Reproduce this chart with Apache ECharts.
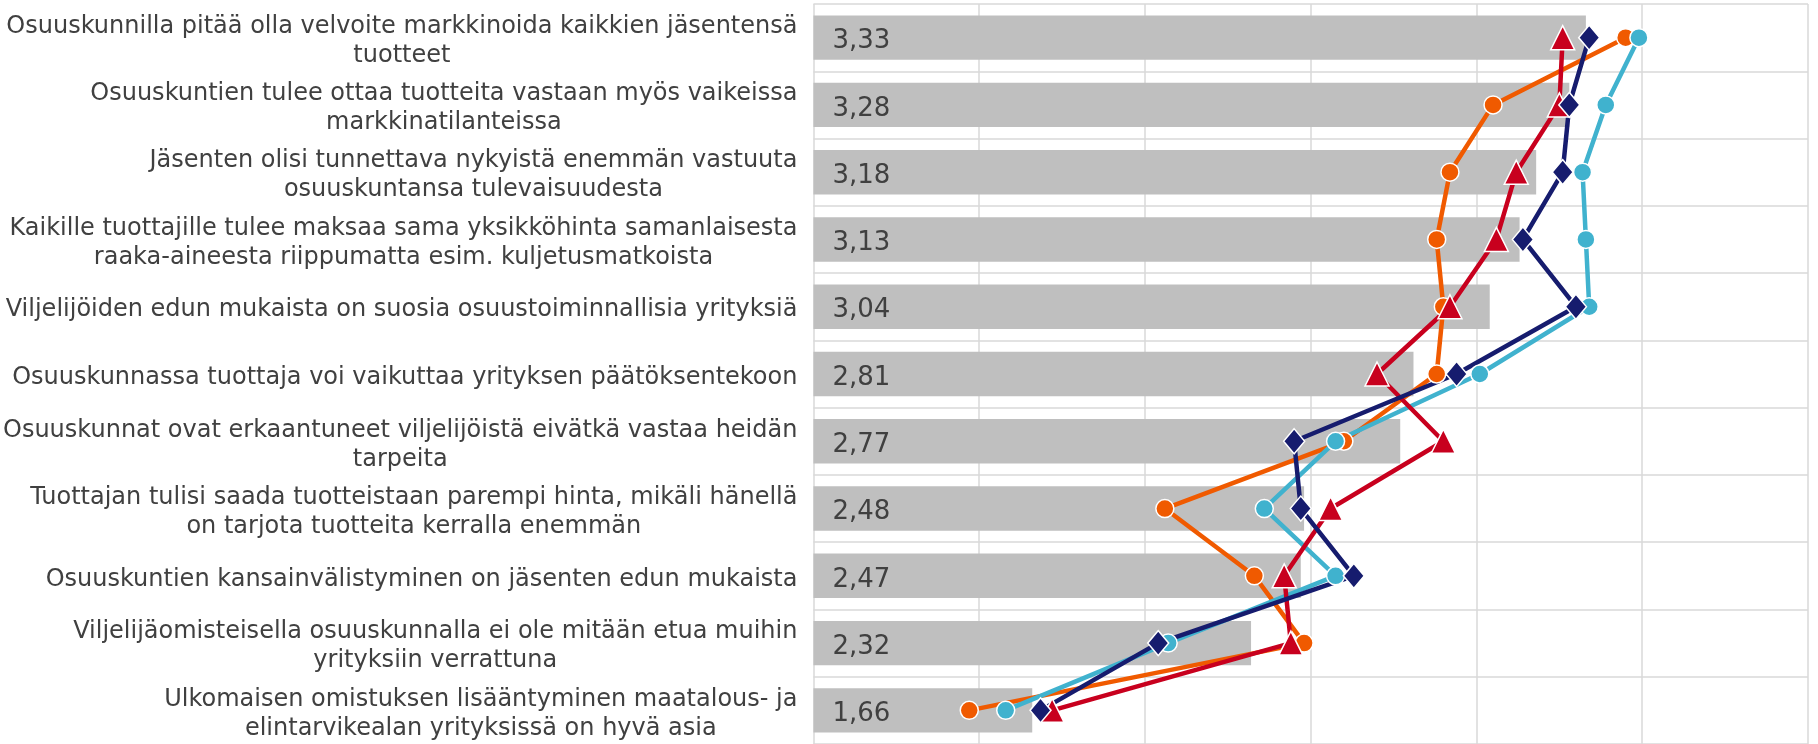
<!DOCTYPE html>
<html>
<head>
<meta charset="utf-8">
<script src="https://cdn.jsdelivr.net/npm/echarts@6/dist/echarts.min.js"></script>
<style>
html,body{margin:0;padding:0;background:#fff;}
#chart{width:1818px;height:744px;}
</style>
</head>
<body>
<div id="chart"></div>
<script>
const categories = [
  "Osuuskunnilla pitää olla velvoite markkinoida kaikkien jäsentensä\ntuotteet",
  "Osuuskuntien tulee ottaa tuotteita vastaan myös vaikeissa\nmarkkinatilanteissa",
  "Jäsenten olisi tunnettava nykyistä enemmän vastuuta\nosuuskuntansa tulevaisuudesta",
  "Kaikille tuottajille tulee maksaa sama yksikköhinta samanlaisesta\nraaka-aineesta riippumatta esim. kuljetusmatkoista",
  "Viljelijöiden edun mukaista on suosia osuustoiminnallisia yrityksiä",
  "Osuuskunnassa tuottaja voi vaikuttaa yrityksen päätöksentekoon",
  "Osuuskunnat ovat erkaantuneet viljelijöistä eivätkä vastaa heidän\ntarpeita",
  "Tuottajan tulisi saada tuotteistaan parempi hinta, mikäli hänellä\non tarjota tuotteita kerralla enemmän",
  "Osuuskuntien kansainvälistyminen on jäsenten edun mukaista",
  "Viljelijäomisteisella osuuskunnalla ei ole mitään etua muihin\nyrityksiin verrattuna",
  "Ulkomaisen omistuksen lisääntyminen maatalous- ja\nelintarvikealan yrityksissä on hyvä asia"
];
const barValues    = [3.33, 3.28, 3.18, 3.13, 3.04, 2.81, 2.77, 2.48, 2.47, 2.32, 1.66];
const orangeValues = [3.45, 3.05, 2.92, 2.88, 2.90, 2.88, 2.60, 2.06, 2.33, 2.48, 1.47];
const cyanValues   = [3.49, 3.39, 3.32, 3.33, 3.34, 3.01, 2.575, 2.36, 2.575, 2.07, 1.58];
const redValues    = [3.26, 3.25, 3.12, 3.06, 2.92, 2.70, 2.90, 2.56, 2.42, 2.44, 1.72];
const navyValues   = [3.34, 3.28, 3.26, 3.14, 3.30, 2.94, 2.45, 2.47, 2.63, 2.04, 1.685];
const axisMin = 1, axisMax = 4, axisStep = 0.5;

const FONT = "'DejaVu Sans', Verdana, sans-serif";
const chart = echarts.init(document.getElementById('chart'), null, {renderer: 'canvas'});

function lineSeries(name, data, color, symbol, size) {
  return {
    name: name, type: 'line', data: data,
    symbol: symbol, symbolSize: size,
    lineStyle: {color: color, width: 4.5},
    itemStyle: {color: color, borderColor: '#ffffff', borderWidth: 1.5},
    emphasis: {disabled: true},
    animation: false
  };
}

chart.setOption({
  animation: false,
  backgroundColor: '#ffffff',
  grid: {left: 813, width: 995, top: 4, height: 745, containLabel: false},
  xAxis: {
    type: 'value', min: axisMin, max: axisMax, interval: axisStep,
    axisLabel: {show: false}, axisLine: {show: false}, axisTick: {show: false},
    splitLine: {show: true, lineStyle: {color: '#d9d9d9', width: 1.5}}
  },
  yAxis: {
    type: 'category', data: categories, inverse: true,
    axisLine: {show: false}, axisTick: {show: false},
    splitLine: {show: true, interval: 0, lineStyle: {color: '#d9d9d9', width: 1.5}},
    axisLabel: {
      interval: 0, margin: 16, padding: [7, 0, 0, 0],
      formatter: function (v) { return v.split('\n').map(function (s) { return '{c|' + s + '}'; }).join('\n'); },
      rich: {c: {align: 'center', fontFamily: FONT, fontSize: 24, color: '#404040', lineHeight: 29}}
    }
  },
  series: [
    {
      name: 'Keskiarvo', type: 'bar', data: barValues, barCategoryGap: '34%',
      itemStyle: {color: '#bfbfbf'},
      label: {
        show: true, position: 'insideLeft', distance: 19, offset: [0, 4],
        fontFamily: FONT, fontSize: 26, color: '#404040',
        formatter: function (p) { return p.value.toFixed(2).replace('.', ','); }
      },
      emphasis: {disabled: true}, animation: false
    },
    lineSeries('Sarja 1', orangeValues, '#f05a00', 'circle', 18),
    lineSeries('Sarja 2', cyanValues, '#40b2ce', 'circle', 18),
    lineSeries('Sarja 3', redValues, '#c8001e', 'triangle', 24),
    lineSeries('Sarja 4', navyValues, '#161c6e', 'diamond', [21, 25])
  ]
});
</script>
</body>
</html>
